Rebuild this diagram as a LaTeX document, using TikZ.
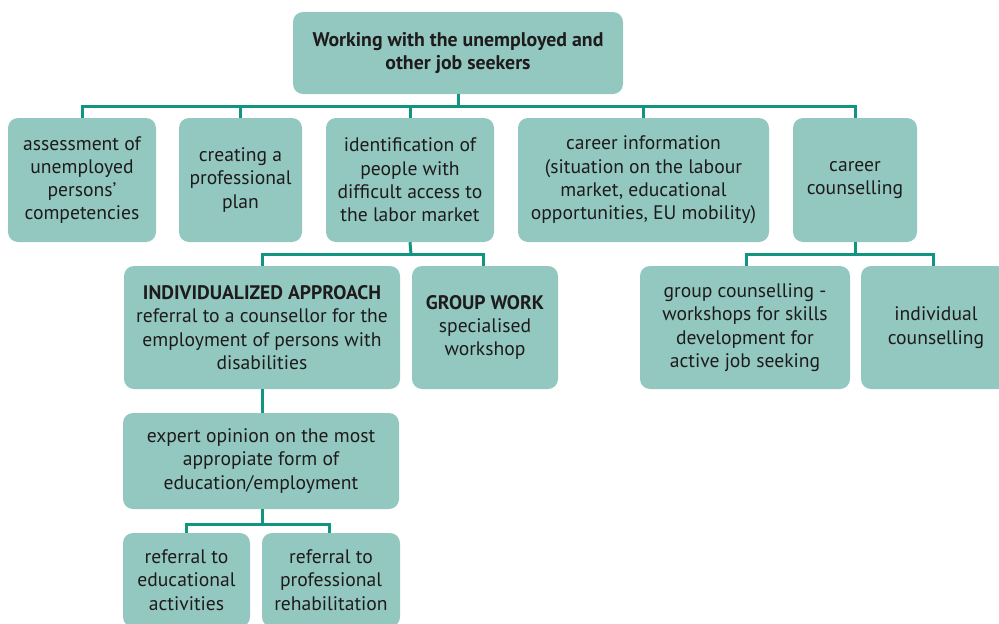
\documentclass[tikz,border=0pt]{standalone}
\usepackage{fontspec}
\setmainfont{PT Sans}
\definecolor{boxfill}{HTML}{93C8C0}
\definecolor{linec}{HTML}{129580}
\definecolor{txt}{HTML}{1E1B1C}
\tikzset{
  box/.style={fill=boxfill, rounded corners=10pt, align=center, text=txt,
    font=\fontsize{19.6}{23.3}\selectfont, inner sep=0pt},
  link/.style={draw=linec, line width=3pt}
}
\begin{document}
\begin{tikzpicture}[x=1pt,y=-1pt]
\useasboundingbox (0,0) rectangle (999,624);
\clip (0,0) rectangle (999,624);
\node[box, minimum width=330, minimum height=82, font=\fontsize{19.8}{22.5}\selectfont\bfseries] (top) at (458,53) {Working with the unemployed and\\other job seekers};
\node[box, minimum width=148, minimum height=124] (a) at (82,180) {assessment of\\unemployed\\persons’\\competencies};
\node[box, minimum width=123, minimum height=124] (b) at (240.5,180) {creating a\\professional\\plan};
\node[box, minimum width=168, minimum height=124] (c) at (410,180) {identification of\\people with\\difficult access to\\the labor market};
\node[box, minimum width=251, minimum height=124] (d) at (643.5,180) {career information\\(situation on the labour\\market, educational\\opportunities, EU mobility)};
\node[box, minimum width=124, minimum height=124] (e) at (855,180) {career\\counselling};
\node[box, minimum width=276, minimum height=123] (f) at (262,327.5) {\textbf{INDIVIDUALIZED APPROACH}\\referral to a counsellor for the\\employment of persons with\\disabilities};
\node[box, minimum width=146, minimum height=123] (g) at (485,327.5) {\textbf{GROUP WORK}\\specialised\\workshop};
\node[box, minimum width=210, minimum height=123] (h) at (745,327.5) {group counselling -\\workshops for skills\\development for\\active job seeking};
\node[box, minimum width=150, minimum height=123] (i) at (936,327.5) {individual\\counselling};
\node[box, minimum width=276, minimum height=96] (j) at (261,461) {expert opinion on the most\\appropiate form of\\education/employment};
\node[box, minimum width=127, minimum height=94] (k) at (186.5,580) {referral to\\educational\\activities};
\node[box, minimum width=138, minimum height=94] (l) at (331,580) {referral to\\professional\\rehabilitation};
\coordinate (bus1) at (458,106);
\coordinate (bus2) at (411,254);
\coordinate (bus3) at (855,254);
\coordinate (bus4) at (262,524);
\draw[link] (top.south) -- (bus1);
\draw[link] (a.north) -- (a.north |- bus1) -- (e.north |- bus1) -- (e.north);
\draw[link] (b.north) -- (b.north |- bus1);
\draw[link] (c.north) -- (c.north |- bus1);
\draw[link] (d.north) -- (d.north |- bus1);
\draw[link] (c.south) -- (bus2);
\draw[link] (f.north) -- (f.north |- bus2) -- ([xshift=-2pt]g.north |- bus2) -- ([xshift=-2pt]g.north);
\draw[link] (e.south) -- (bus3);
\draw[link] ([xshift=1pt]h.north) -- ([xshift=1pt]h.north |- bus3) -- ([xshift=-3pt]i.north |- bus3) -- ([xshift=-3pt]i.north);
\draw[link] (f.south) -- (f.south |- j.north);
\draw[link] ([xshift=1pt]j.south) -- (bus4);
\draw[link] (k.north) -- (k.north |- bus4) -- ([xshift=-2pt]l.north |- bus4) -- ([xshift=-2pt]l.north);
\end{tikzpicture}
\end{document}
